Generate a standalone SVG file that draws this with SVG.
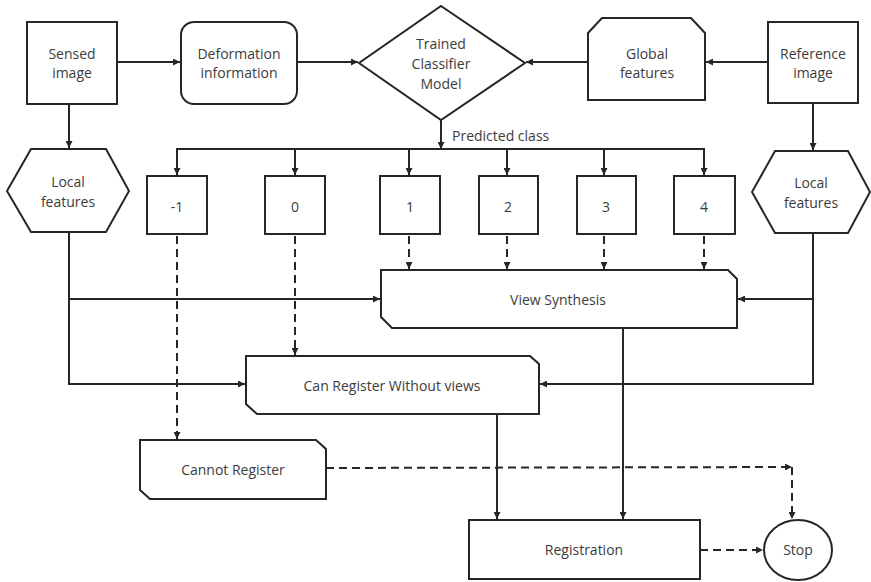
<svg xmlns="http://www.w3.org/2000/svg" width="871" height="582" viewBox="0 0 871 582">
  <style>
    .shape { fill: #ffffff; stroke: #262626; stroke-width: 2; }
    .lbl { font-family: "Open Sans", "Noto Sans", sans-serif; font-size: 14px; fill: #3c3c3c; text-anchor: middle; }
    .wire { fill: none; stroke: #262626; stroke-width: 2; }
    .dash { fill: none; stroke: #262626; stroke-width: 2; stroke-dasharray: 8 5; }
  </style>
  <defs>
    <marker id="arrow" viewBox="0 0 8 8" refX="8" refY="4" markerWidth="7" markerHeight="7" markerUnits="userSpaceOnUse" orient="auto">
      <path d="M0,0 L8,4 L0,8 z" fill="#262626"/>
    </marker>
  </defs>
  <rect width="871" height="582" fill="#ffffff"/>

  <!-- connectors -->
  <g id="connectors">
    <line class="wire" x1="117" y1="62" x2="180" y2="62" marker-end="url(#arrow)"/>
    <line class="wire" x1="297" y1="62" x2="358" y2="62" marker-end="url(#arrow)"/>
    <line class="wire" x1="768" y1="62" x2="706" y2="62" marker-end="url(#arrow)"/>
    <line class="wire" x1="588" y1="62" x2="526" y2="62" marker-end="url(#arrow)"/>
    <line class="wire" x1="69" y1="104" x2="69" y2="148" marker-end="url(#arrow)"/>
    <line class="wire" x1="813" y1="103" x2="813" y2="150" marker-end="url(#arrow)"/>

    <!-- predicted class bus -->
    <line class="wire" x1="441" y1="120" x2="441" y2="149" marker-end="url(#arrow)"/>
    <polyline class="wire" points="177,175 177,149 704,149 704,175" marker-end="url(#arrow)"/>
    <line class="wire" x1="177" y1="150" x2="177" y2="175" marker-end="url(#arrow)"/>
    <line class="wire" x1="295" y1="149" x2="295" y2="175" marker-end="url(#arrow)"/>
    <line class="wire" x1="409" y1="149" x2="409" y2="175" marker-end="url(#arrow)"/>
    <line class="wire" x1="507" y1="149" x2="507" y2="175" marker-end="url(#arrow)"/>
    <line class="wire" x1="604" y1="149" x2="604" y2="175" marker-end="url(#arrow)"/>

    <!-- class boxes to view synthesis -->
    <line class="dash" x1="409" y1="236" x2="409" y2="269" marker-end="url(#arrow)"/>
    <line class="dash" x1="507" y1="236" x2="507" y2="269" marker-end="url(#arrow)"/>
    <line class="dash" x1="604" y1="236" x2="604" y2="269" marker-end="url(#arrow)"/>
    <line class="dash" x1="704" y1="236" x2="704" y2="269" marker-end="url(#arrow)"/>
    <line class="dash" x1="295" y1="236" x2="295" y2="355" marker-end="url(#arrow)"/>
    <line class="dash" x1="177" y1="236" x2="177" y2="439" marker-end="url(#arrow)"/>

    <!-- local features to synthesis / register -->
    <polyline class="wire" points="69,232 69,384 245,384" marker-end="url(#arrow)"/>
    <line class="wire" x1="69" y1="299" x2="380" y2="299" marker-end="url(#arrow)"/>
    <polyline class="wire" points="813,233 813,384 540,384" marker-end="url(#arrow)"/>
    <line class="wire" x1="813" y1="299" x2="738" y2="299" marker-end="url(#arrow)"/>

    <!-- towards registration -->
    <line class="wire" x1="623" y1="328" x2="623" y2="519" marker-end="url(#arrow)"/>
    <line class="wire" x1="497" y1="414" x2="497" y2="519" marker-end="url(#arrow)"/>

    <!-- towards stop -->
    <line class="dash" x1="326" y1="468" x2="792" y2="467" marker-end="url(#arrow)"/>
    <line class="dash" x1="792" y1="467" x2="792" y2="519" marker-end="url(#arrow)"/>
    <line class="dash" x1="700" y1="550" x2="763" y2="550" marker-end="url(#arrow)"/>
  </g>

  <g id="sensed-image">
    <rect class="shape" x="27" y="22" width="90" height="82"/>
    <text class="lbl" x="72" y="59">Sensed</text>
    <text class="lbl" x="72" y="78">image</text>
  </g>

  <g id="deformation-information">
    <rect class="shape" x="181" y="22" width="116" height="82" rx="13"/>
    <text class="lbl" x="239" y="59">Deformation</text>
    <text class="lbl" x="239" y="78">information</text>
  </g>

  <g id="trained-classifier">
    <polygon class="shape" points="441,6 525,63 441,120 359,63"/>
    <text class="lbl" x="441" y="49">Trained</text>
    <text class="lbl" x="441" y="69">Classifier</text>
    <text class="lbl" x="441" y="89">Model</text>
  </g>

  <g id="global-features">
    <polygon class="shape" points="602,18 691,18 705,33 705,100 588,100 588,33"/>
    <text class="lbl" x="647" y="59">Global</text>
    <text class="lbl" x="647" y="78">features</text>
  </g>

  <g id="reference-image">
    <rect class="shape" x="768" y="22" width="90" height="81"/>
    <text class="lbl" x="813" y="59">Reference</text>
    <text class="lbl" x="813" y="78">image</text>
  </g>

  <text class="lbl" x="452" y="141" style="text-anchor:start">Predicted class</text>

  <g id="local-features-left">
    <polygon class="shape" points="31,149 106,149 129,191 106,232 31,232 7,191"/>
    <text class="lbl" x="68" y="187">Local</text>
    <text class="lbl" x="68" y="207">features</text>
  </g>

  <g id="local-features-right">
    <polygon class="shape" points="775,151 848,151 870,192 848,233 775,233 752,192"/>
    <text class="lbl" x="811" y="188">Local</text>
    <text class="lbl" x="811" y="208">features</text>
  </g>

  <g id="class-minus1">
    <rect class="shape" x="147" y="176" width="60" height="58"/>
    <text class="lbl" x="177" y="212">-1</text>
  </g>
  <g id="class-0">
    <rect class="shape" x="265" y="176" width="60" height="58"/>
    <text class="lbl" x="295" y="212">0</text>
  </g>
  <g id="class-1">
    <rect class="shape" x="380" y="176" width="60" height="58"/>
    <text class="lbl" x="410" y="212">1</text>
  </g>
  <g id="class-2">
    <rect class="shape" x="479" y="176" width="59" height="58"/>
    <text class="lbl" x="508" y="212">2</text>
  </g>
  <g id="class-3">
    <rect class="shape" x="577" y="176" width="59" height="58"/>
    <text class="lbl" x="606" y="212">3</text>
  </g>
  <g id="class-4">
    <rect class="shape" x="674" y="176" width="61" height="58"/>
    <text class="lbl" x="704" y="212">4</text>
  </g>

  <g id="view-synthesis">
    <polygon class="shape" points="381,270 728,270 737,279 737,328 392,328 381,317"/>
    <text class="lbl" x="558" y="305">View Synthesis</text>
  </g>

  <g id="register-without-views">
    <polygon class="shape" points="246,356 530,356 539,364 539,414 257,414 246,404"/>
    <text class="lbl" x="392" y="391">Can Register Without views</text>
  </g>

  <g id="cannot-register">
    <polygon class="shape" points="140,440 316,440 326,449 326,499 150,499 140,490"/>
    <text class="lbl" x="233" y="475">Cannot Register</text>
  </g>

  <g id="registration">
    <rect class="shape" x="469" y="520" width="231" height="59"/>
    <text class="lbl" x="584" y="555">Registration</text>
  </g>

  <g id="stop">
    <ellipse class="shape" cx="798" cy="550" rx="34" ry="30"/>
    <text class="lbl" x="798" y="555">Stop</text>
  </g>
</svg>
